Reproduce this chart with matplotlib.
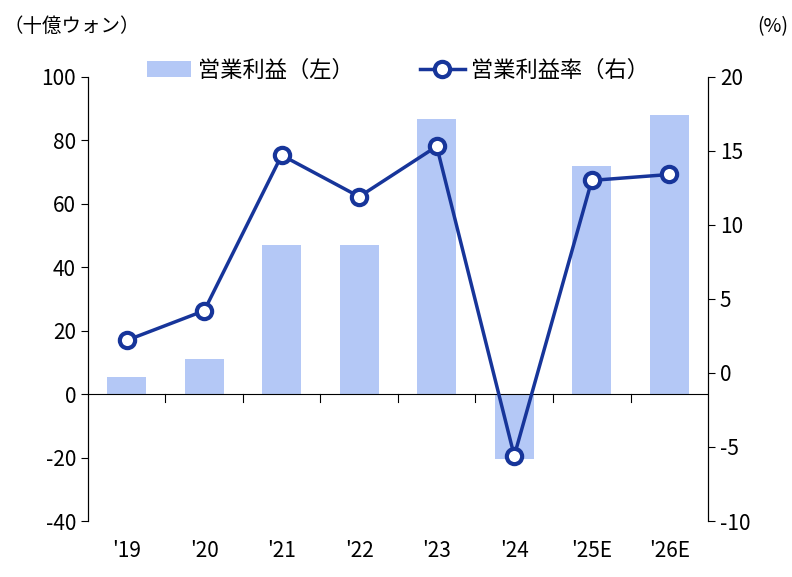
import matplotlib.pyplot as plt
import numpy as np

plt.rcParams['font.family'] = ['Noto Sans CJK JP', 'DejaVu Sans']
plt.rcParams['axes.unicode_minus'] = False

years = ["'19", "'20", "'21", "'22", "'23", "'24", "'25E", "'26E"]
op_profit = [5.4, 11, 47, 47, 86.7, -20.5, 72, 88]
op_margin = [2.2, 4.2, 14.7, 11.9, 15.3, -5.6, 13.0, 13.4]

fig = plt.figure(figsize=(7.92, 5.77), dpi=100)
ax = fig.add_axes([0.111, 0.097, 0.783, 0.77])
x = np.arange(len(years))

ax.bar(x, op_profit, width=0.5, color='#b4c8f6', label='営業利益（左）', zorder=1)
ax.set_ylim(-40, 100)
ax.set_yticks(range(-40, 101, 20))
ax.set_xlim(-0.5, len(years) - 0.5)
ax.axhline(0, color='black', linewidth=0.8, zorder=2)
ax.set_xticks([])
for i, lab in enumerate(years):
    ax.text(i, -46, lab, ha='center', va='top', fontsize=15)
for b in np.arange(0.5, len(years) - 0.5):
    ax.plot([b, b], [0, -2.5], color='black', linewidth=0.8, clip_on=False)
ax.spines['top'].set_visible(False)
ax.spines['bottom'].set_visible(False)
ax.tick_params(axis='y', labelsize=15, direction='out', length=5)

ax2 = ax.twinx()
ax2.plot(x, op_margin, color='#17359a', linewidth=2.5, marker='o', markersize=11,
         markerfacecolor='white', markeredgewidth=3, label='営業利益率（右）', zorder=3)
ax2.set_ylim(-10, 20)
ax2.set_yticks(range(-10, 21, 5))
ax2.spines['top'].set_visible(False)
ax2.spines['bottom'].set_visible(False)
ax2.tick_params(axis='y', labelsize=15, direction='out', length=5)

fig.text(0.005, 0.945, '（十億ウォン）', fontsize=14, ha='left')
fig.text(0.995, 0.945, '(%)', fontsize=14, ha='right')

h1, l1 = ax.get_legend_handles_labels()
h2, l2 = ax2.get_legend_handles_labels()
ax.legend(h1 + h2, l1 + l2, loc='upper center', bbox_to_anchor=(0.5, 1.085), ncol=2,
          frameon=False, fontsize=16, handlelength=2, handletextpad=0.3, columnspacing=3)

fig.savefig('out.png')
